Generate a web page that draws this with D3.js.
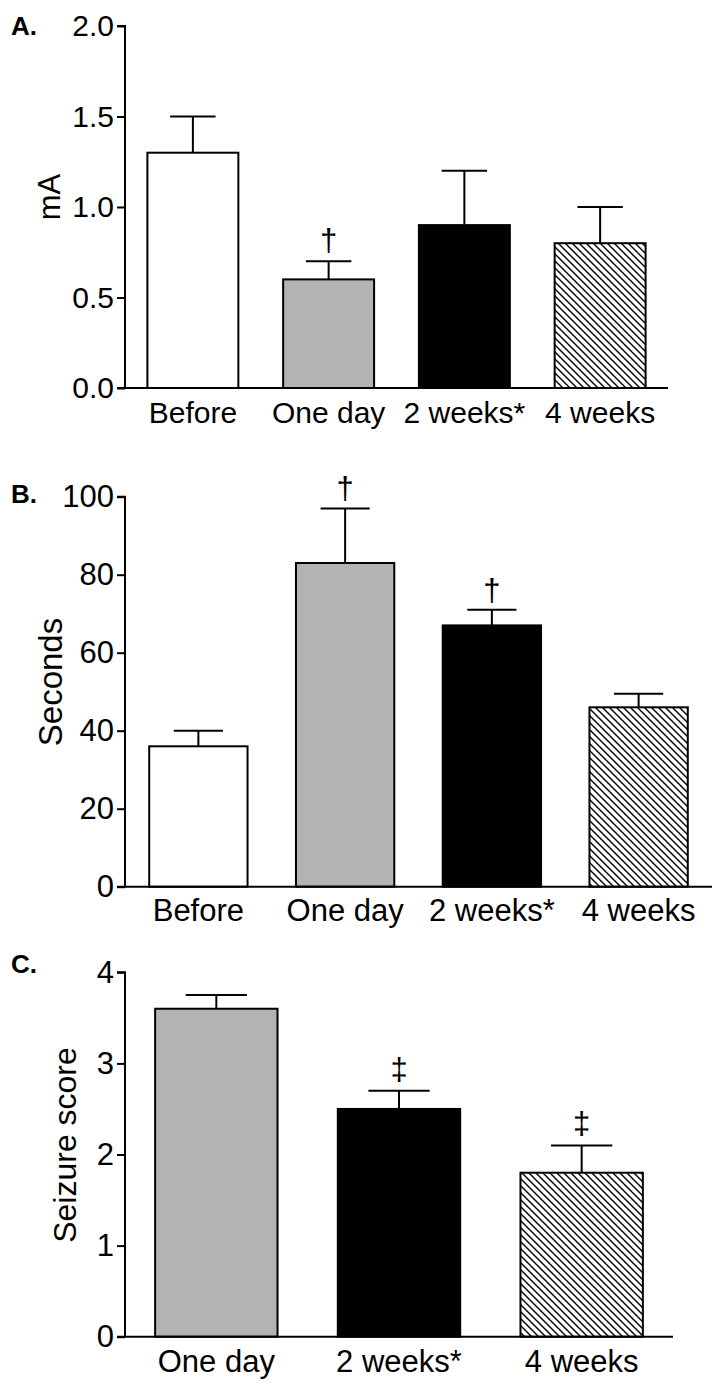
<!DOCTYPE html>
<html><head><meta charset="utf-8">
<script src="https://cdn.jsdelivr.net/npm/d3@7"></script>
<style>html,body{margin:0;padding:0;background:#fff;}svg{display:block;}</style>
</head><body>
<script>
// ---- data ----
const categoriesAB = ["Before", "One day", "2 weeks*", "4 weeks"];
const valuesA = [1.3, 0.6, 0.9, 0.8];
const errorsA = [0.2, 0.1, 0.3, 0.2];
const marksA = ["", "†", "", ""];
const ticksA = [0, 0.5, 1.0, 1.5, 2.0];

const valuesB = [36, 83, 67, 46];
const errorsB = [4, 14, 4, 3.5];
const marksB = ["", "†", "†", ""];
const ticksB = [0, 20, 40, 60, 80, 100];

const categoriesC = ["One day", "2 weeks*", "4 weeks"];
const valuesC = [3.6, 2.5, 1.8];
const errorsC = [0.15, 0.2, 0.3];
const marksC = ["", "‡", "‡"];
const ticksC = [0, 1, 2, 3, 4];

const fillFor = {"Before": "#ffffff", "One day": "#b3b3b3", "2 weeks*": "#000000", "4 weeks": "url(#hatch)"};

const W = 724, H = 1389;
const FONT = "Arial, 'Liberation Sans', Helvetica, sans-serif";
const svg = d3.select("body").append("svg").attr("width", W).attr("height", H);

const defs = svg.append("defs");
const pat = defs.append("pattern").attr("id", "hatch").attr("patternUnits", "userSpaceOnUse")
  .attr("width", 7).attr("height", 7);
pat.append("rect").attr("width", 7).attr("height", 7).attr("fill", "#fff");
pat.append("path").attr("d", "M-1,-1 L8,8 M-1,6 L1,8 M6,-1 L8,1")
  .attr("stroke", "#000").attr("stroke-width", 1.4);

function panel(cfg) {
  const g = svg.append("g");
  const x = d3.scaleBand().domain(cfg.cats).range([cfg.x0, cfg.x1]).paddingInner(0.33).paddingOuter(0.165);
  const y = d3.scaleLinear().domain(cfg.domain).range([cfg.y0, cfg.yTop]);

  const data = cfg.cats.map((c, i) => ({c, v: cfg.vals[i], e: cfg.errs[i], m: cfg.marks[i]}));
  const bw = x.bandwidth();
  // error bars
  g.selectAll(".err").data(data).join("path")
    .attr("d", d => {
      const cx = x(d.c) + bw / 2, half = bw / 4;
      return `M${cx},${y(d.v)}V${y(d.v + d.e)}M${cx - half},${y(d.v + d.e)}H${cx + half}`;
    })
    .attr("stroke", "#000").attr("stroke-width", 2).attr("fill", "none");
  // bars
  g.selectAll(".bar").data(data).join("rect")
    .attr("x", d => x(d.c)).attr("width", bw)
    .attr("y", d => y(d.v)).attr("height", d => y(0) - y(d.v))
    .attr("fill", d => fillFor[d.c]).attr("stroke", "#000").attr("stroke-width", 2);
  // significance marks
  g.selectAll(".mark").data(data.filter(d => d.m)).join("text")
    .attr("x", d => x(d.c) + bw / 2).attr("y", d => y(d.v + d.e) - cfg.markGap)
    .attr("text-anchor", "middle").attr("font-family", FONT).attr("font-size", 31)
    .text(d => d.m);

  // y axis
  const ya = d3.axisLeft(y).tickValues(cfg.ticks).tickSize(8).tickPadding(3).tickFormat(cfg.fmt);
  const ag = g.append("g").attr("transform", `translate(${cfg.x0},0)`).call(ya);
  ag.select(".domain").attr("stroke-width", 2).attr("d", `M-8,${cfg.yTop}H0V${cfg.y0}`);
  ag.selectAll(".tick line").attr("stroke-width", 2);
  ag.selectAll(".tick text").attr("font-family", FONT).attr("font-size", cfg.tickSize).attr("fill", "#000");
  // x baseline and labels
  const xa = d3.axisBottom(x).tickSize(0).tickPadding(0);
  const xg = g.append("g").attr("transform", `translate(0,${cfg.y0})`).call(xa);
  xg.select(".domain").attr("stroke-width", 2).attr("d", `M${cfg.x0 - 8},0H${cfg.x1}`);
  xg.selectAll(".tick text").attr("font-family", FONT).attr("font-size", cfg.catSize)
    .attr("fill", "#000").attr("dy", null).attr("y", cfg.catBase);

  // y label
  g.append("text").attr("transform", `translate(${cfg.ylx},${cfg.yly}) rotate(-90)`)
    .attr("text-anchor", "middle").attr("font-family", FONT).attr("font-size", cfg.ylSize)
    .text(cfg.ylabel);
  // panel letter
  g.append("text").attr("x", 11).attr("y", cfg.letterY).attr("font-family", FONT)
    .attr("font-weight", "bold").attr("font-size", 26).text(cfg.letter);
}

panel({cats: categoriesAB, vals: valuesA, errs: errorsA, marks: marksA, ticks: ticksA,
  domain: [0, 2], fmt: d3.format(".1f"), x0: 125, x1: 668, y0: 388, yTop: 26,
  tickSize: 30, catSize: 30, catBase: 35, ylabel: "mA", ylx: 60, yly: 197, ylSize: 31,
  letter: "A.", letterY: 35, markGap: 10});
panel({cats: categoriesAB, vals: valuesB, errs: errorsB, marks: marksB, ticks: ticksB,
  domain: [0, 100], fmt: d3.format("d"), x0: 125, x1: 712, y0: 886.7, yTop: 496.7,
  tickSize: 31, catSize: 31, catBase: 34, ylabel: "Seconds", ylx: 62, yly: 682, ylSize: 33,
  letter: "B.", letterY: 503, markGap: 9});
panel({cats: categoriesC, vals: valuesC, errs: errorsC, marks: marksC, ticks: ticksC,
  domain: [0, 4], fmt: d3.format("d"), x0: 125, x1: 673, y0: 1336.7, yTop: 972.3,
  tickSize: 31, catSize: 31, catBase: 35, ylabel: "Seizure score", ylx: 76, yly: 1145, ylSize: 32,
  letter: "C.", letterY: 973, markGap: 11});
</script>
</body></html>
